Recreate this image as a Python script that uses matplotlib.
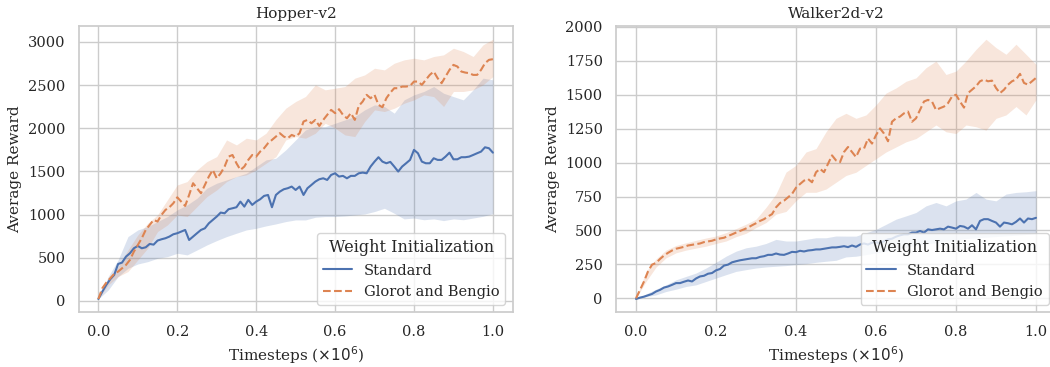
import numpy as np
import matplotlib
matplotlib.use('Agg')
import matplotlib.pyplot as plt
import seaborn as sns

# timesteps (x1e6): means every 0.01, spread bands every 0.025
steps = np.linspace(0.0, 1.0, 101)
band_steps = np.linspace(0.0, 1.0, 41)

# ---- Hopper-v2 ----
hopper_std = [23, 108, 185, 251, 301, 428, 444, 513, 552, 610,
              637, 610, 621, 660, 652, 699, 714, 726, 745, 772,
              784, 803, 822, 706, 745, 784, 822, 841, 899, 938,
              977, 1023, 1015, 1062, 1073, 1085, 1150, 1092, 1170, 1112,
              1150, 1177, 1216, 1227, 1085, 1227, 1266, 1293, 1305, 1324,
              1285, 1324, 1227, 1305, 1343, 1382, 1409, 1420, 1401, 1459,
              1478, 1440, 1448, 1420, 1448, 1448, 1478, 1486, 1478, 1556,
              1613, 1664, 1613, 1594, 1610, 1556, 1498, 1556, 1594, 1633,
              1749, 1710, 1613, 1594, 1594, 1652, 1633, 1633, 1671, 1717,
              1640, 1640, 1664, 1664, 1671, 1690, 1710, 1729, 1779, 1768,
              1717]
hopper_std_lo = [23, 127, 282, 378, 428, 455, 494, 513, 552, 533,
                 590, 648, 699, 745, 784, 822, 841, 869, 892, 919,
                 938, 938, 969, 977, 977, 984, 996, 1007, 1035, 1073,
                 1015, 950, 960, 940, 950, 930, 950, 940, 960, 980,
                 1010]
hopper_std_hi = [23, 282, 475, 745, 822, 861, 919, 977, 1054, 1112,
                 1189, 1305, 1363, 1401, 1440, 1478, 1556, 1633, 1652, 1749,
                 1864, 1980, 2018, 2018, 2057, 2096, 2135, 2212, 2270, 2251,
                 2174, 2328, 2386, 2425, 2482, 2405, 2366, 2328, 2444, 2579,
                 2560]
hopper_glorot = [23, 147, 212, 262, 313, 340, 378, 417, 475, 571,
                 648, 726, 822, 880, 938, 919, 996, 1054, 1085, 1131,
                 1200, 1150, 1100, 1227, 1363, 1305, 1247, 1343, 1440, 1517,
                 1420, 1478, 1556, 1671, 1690, 1594, 1517, 1556, 1633, 1690,
                 1671, 1729, 1768, 1826, 1864, 1903, 1942, 1903, 1884, 1922,
                 1903, 1942, 2077, 2096, 2057, 2096, 2026, 2096, 2154, 2212,
                 2174, 2220, 2154, 2115, 2174, 2096, 2258, 2309, 2386, 2347,
                 2386, 2270, 2243, 2347, 2412, 2463, 2463, 2482, 2482, 2490,
                 2540, 2540, 2502, 2560, 2617, 2656, 2579, 2521, 2598, 2675,
                 2733, 2714, 2656, 2644, 2637, 2617, 2617, 2675, 2752, 2791,
                 2799]
hopper_glorot_lo = [23, 185, 282, 340, 475, 610, 803, 880, 996, 977,
                    1092, 1208, 1285, 1382, 1440, 1459, 1517, 1594, 1671, 1864,
                    1903, 1884, 1942, 2057, 2000, 1922, 1903, 2077, 2212, 2193,
                    2231, 2289, 2328, 2386, 2366, 2251, 2425, 2425, 2444, 2502,
                    2598]
hopper_glorot_hi = [23, 243, 398, 590, 764, 899, 996, 1170, 1343, 1382,
                    1517, 1613, 1671, 1864, 1806, 1884, 1864, 1942, 2100, 2231,
                    2309, 2367, 2502, 2444, 2463, 2482, 2579, 2617, 2694, 2675,
                    2752, 2791, 2810, 2791, 2830, 2849, 2926, 2888, 2830, 2965,
                    3030]

# ---- Walker2d-v2 ----
walker_std = [-5, 5, 12, 22, 32, 50, 62, 79, 87, 99,
              112, 112, 122, 131, 124, 146, 161, 166, 181, 186,
              206, 216, 241, 248, 265, 273, 280, 285, 290, 295,
              295, 305, 310, 320, 320, 330, 322, 320, 330, 342,
              340, 350, 345, 352, 355, 360, 360, 365, 370, 375,
              375, 379, 384, 377, 389, 379, 396, 404, 396, 409,
              414, 404, 421, 434, 439, 454, 464, 471, 471, 484,
              484, 496, 484, 508, 503, 508, 513, 508, 528, 521,
              513, 533, 528, 513, 538, 508, 570, 583, 583, 570,
              558, 528, 558, 553, 545, 563, 588, 558, 588, 583,
              593]
walker_std_lo = [-5, 12, 25, 50, 67, 87, 99, 124, 149, 174,
                 198, 211, 223, 231, 236, 241, 248, 255, 265, 273,
                 280, 305, 310, 322, 334, 347, 360, 375, 390, 400,
                 410, 420, 430, 440, 445, 450, 455, 460, 465, 470,
                 475]
walker_std_hi = [-5, 32, 67, 99, 136, 161, 186, 223, 265, 310,
                 347, 372, 384, 404, 434, 422, 422, 434, 446, 446,
                 459, 458, 458, 483, 508, 545, 583, 607, 632, 681,
                 706, 681, 718, 731, 780, 731, 718, 768, 780, 785,
                 793]
walker_glorot = [0, 62, 124, 198, 248, 260, 290, 315, 335, 352,
                 365, 372, 379, 389, 394, 399, 404, 414, 419, 424,
                 434, 441, 446, 459, 471, 484, 496, 508, 521, 538,
                 553, 570, 583, 603, 620, 670, 702, 719, 744, 769,
                 815, 842, 867, 879, 855, 929, 954, 929, 991, 1053,
                 1016, 1003, 1078, 1115, 1078, 1041, 1103, 1103, 1177, 1140,
                 1202, 1252, 1214, 1157, 1301, 1326, 1339, 1363, 1376, 1301,
                 1326, 1388, 1450, 1462, 1450, 1388, 1401, 1413, 1438, 1487,
                 1500, 1450, 1405, 1512, 1537, 1562, 1599, 1612, 1599, 1604,
                 1550, 1512, 1537, 1574, 1599, 1612, 1654, 1587, 1574, 1599,
                 1624]
walker_glorot_lo = [0, 124, 230, 298, 335, 355, 370, 384, 404, 422,
                    454, 479, 521, 558, 620, 640, 719, 781, 781, 805,
                    855, 905, 929, 979, 1028, 1078, 1115, 1153, 1177, 1227,
                    1277, 1227, 1214, 1277, 1264, 1239, 1326, 1351, 1413, 1351,
                    1463]
walker_glorot_hi = [0, 198, 290, 355, 389, 409, 427, 444, 459, 484,
                    513, 546, 583, 670, 769, 930, 980, 1078, 1103, 1227,
                    1326, 1363, 1326, 1351, 1425, 1512, 1550, 1599, 1624, 1699,
                    1748, 1649, 1674, 1748, 1834, 1909, 1847, 1798, 1872, 1798,
                    1723]

envs = {
    'Hopper-v2': (hopper_std, hopper_std_lo, hopper_std_hi,
                  hopper_glorot, hopper_glorot_lo, hopper_glorot_hi),
    'Walker2d-v2': (walker_std, walker_std_lo, walker_std_hi,
                    walker_glorot, walker_glorot_lo, walker_glorot_hi),
}

sns.set_theme(style='whitegrid')
plt.rcParams['font.family'] = 'serif'
plt.rcParams['font.serif'] = ['DejaVu Serif']
pal = sns.color_palette('deep')

fig = plt.figure(figsize=(10.5, 3.67), dpi=100)
axes = [fig.add_axes([0.0749, 0.150, 0.4133, 0.7785]),
        fig.add_axes([0.5867, 0.150, 0.4190, 0.7785])]

for ax, (title, (std, std_lo, std_hi, gb, gb_lo, gb_hi)) in zip(axes, envs.items()):
    ax.fill_between(band_steps, std_lo, std_hi, color=pal[0], alpha=0.2, linewidth=0)
    ax.fill_between(band_steps, gb_lo, gb_hi, color=pal[1], alpha=0.2, linewidth=0)
    ax.plot(steps, std, color=pal[0], lw=1.5, label='Standard')
    ax.plot(steps, gb, color=pal[1], lw=1.5, ls='--', label='Glorot and Bengio')
    ax.set_title(title, fontsize=11)
    ax.set_xlabel(r'Timesteps ($\times10^6$)', fontsize=11)
    ax.set_ylabel('Average Reward', fontsize=11)
    ax.tick_params(labelsize=10.5)
    ax.set_xticks([0.0, 0.2, 0.4, 0.6, 0.8, 1.0])
    ax.legend(title='Weight Initialization', loc='lower right',
              fontsize=10.5, title_fontsize=11.5)

fig.savefig('out.png', dpi=100)
